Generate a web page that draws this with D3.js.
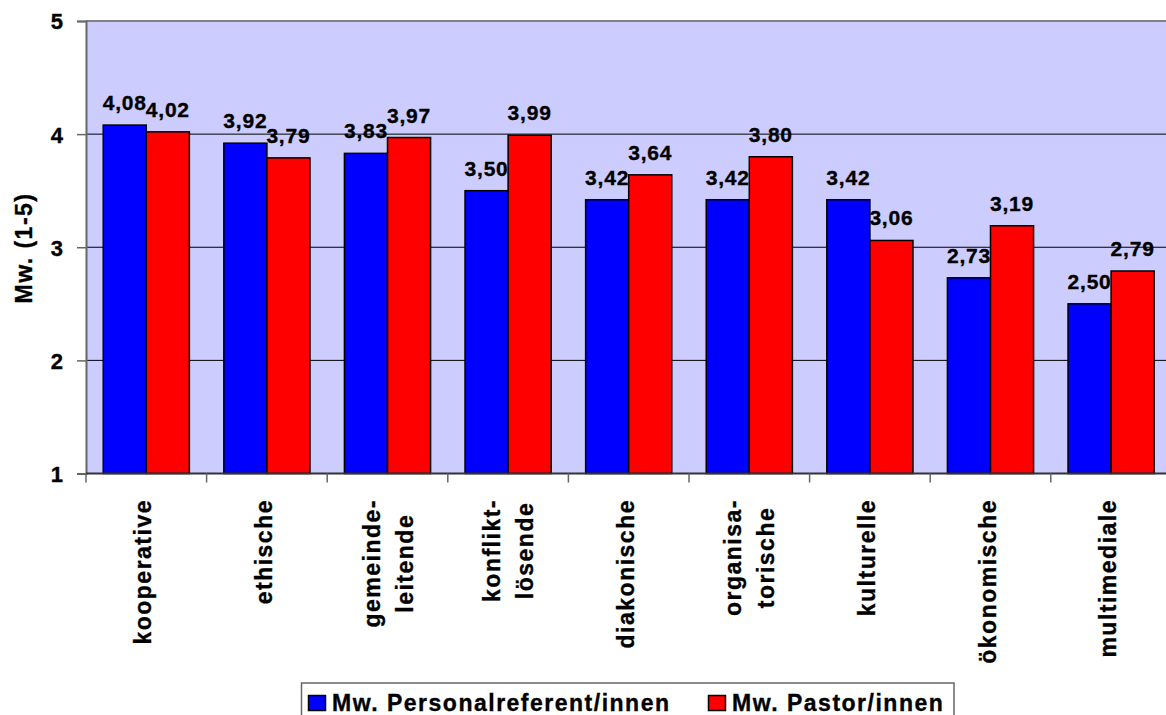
<!DOCTYPE html>
<html>
<head>
<meta charset="utf-8">
<script src="https://cdn.jsdelivr.net/npm/d3@7/dist/d3.min.js"></script>
<style>
  html, body { margin: 0; padding: 0; background: #ffffff; }
  svg { display: block; font-family: "Liberation Sans", Arial, sans-serif; font-weight: bold; }
  svg text { stroke: #000; stroke-width: 0.35px; }
</style>
</head>
<body>
<svg id="chart" width="1166" height="715"></svg>
<script>
// Kompetenzbereiche (Mittelwerte, Skala 1-5)
const categories = ["kooperative", "ethische", "gemeinde-\nleitende", "konflikt-\nlösende",
  "diakonische", "organisa-\ntorische", "kulturelle", "ökonomische", "multimediale"];
const seriesNames = ["Mw. Personalreferent/innen", "Mw. Pastor/innen"];
const personalValues = [4.08, 3.92, 3.83, 3.50, 3.42, 3.42, 3.42, 2.73, 2.50];
const pastorValues = [4.02, 3.79, 3.97, 3.99, 3.64, 3.80, 3.06, 3.19, 2.79];
const yTicks = [1, 2, 3, 4, 5];
const seriesColors = ["#0000ff", "#ff0000"];

const svg = d3.select("#chart");
const plot = { left: 86, top: 21, bottom: 473.5, step: 120.6 };
plot.right = plot.left + plot.step * categories.length;

const x = d3.scaleBand().domain(categories).range([plot.left, plot.right]).padding(0);
const xs = d3.scaleBand().domain(seriesNames).range([0, x.bandwidth()])
  .paddingInner(0).paddingOuter(0.4);
const y = d3.scaleLinear().domain([1, 5]).range([plot.bottom, plot.top]);

// plot area
svg.append("rect")
  .attr("x", plot.left).attr("y", plot.top)
  .attr("width", plot.right - plot.left).attr("height", plot.bottom - plot.top)
  .attr("fill", "#ccccff");
svg.append("line")
  .attr("x1", plot.left).attr("x2", plot.right)
  .attr("y1", plot.top).attr("y2", plot.top)
  .attr("stroke", "#808080").attr("stroke-width", 2);

// gridlines
svg.append("g").selectAll("line")
  .data(yTicks.filter(t => t > 1 && t < 5))
  .join("line")
  .attr("x1", plot.left).attr("x2", plot.right)
  .attr("y1", d => y(d)).attr("y2", d => y(d))
  .attr("stroke", "#000").attr("stroke-width", 1);

// y axis
const yAxis = d3.axisLeft(y).tickValues(yTicks).tickSize(9).tickPadding(14).tickFormat(d3.format("d"));
const gy = svg.append("g").attr("transform", `translate(${plot.left},0)`).call(yAxis);
gy.select(".domain").attr("stroke", "#666").attr("stroke-width", 2);
gy.selectAll(".tick line").attr("stroke", "#666").attr("stroke-width", 1.5);
gy.selectAll(".tick text")
  .attr("font-size", 22).attr("font-weight", "bold").attr("fill", "#000")
  .attr("font-family", "Liberation Sans, Arial, sans-serif")
  .attr("dy", "0.36em");

// bars
const groups = svg.append("g").selectAll("g")
  .data(categories.map((c, i) => ({ c, vals: [personalValues[i], pastorValues[i]] })))
  .join("g")
  .attr("transform", d => `translate(${x(d.c)},0)`);

groups.selectAll("rect")
  .data(d => d.vals.map((v, j) => ({ v, s: seriesNames[j], j })))
  .join("rect")
  .attr("x", d => xs(d.s))
  .attr("y", d => y(d.v))
  .attr("width", xs.bandwidth())
  .attr("height", d => y(1) - y(d.v))
  .attr("fill", d => seriesColors[d.j])
  .attr("stroke", "#000").attr("stroke-width", 1.5);

// value labels
const fmt = v => d3.format(".2f")(v).replace(".", ",");
groups.selectAll("text.val")
  .data(d => d.vals.map((v, j) => ({ v, s: seriesNames[j] })))
  .join("text")
  .attr("class", "val")
  .attr("x", d => xs(d.s) + xs.bandwidth() / 2)
  .attr("y", d => y(d.v) - 15)
  .attr("text-anchor", "middle")
  .attr("font-size", 21).attr("letter-spacing", 0.8)
  .text(d => fmt(d.v));

// x axis line and ticks
svg.append("line")
  .attr("x1", plot.left).attr("x2", plot.right)
  .attr("y1", plot.bottom).attr("y2", plot.bottom)
  .attr("stroke", "#333").attr("stroke-width", 2);
svg.append("g").selectAll("line")
  .data(categories)
  .join("line")
  .attr("x1", d => x(d)).attr("x2", d => x(d))
  .attr("y1", plot.bottom).attr("y2", plot.bottom + 9)
  .attr("stroke", "#666").attr("stroke-width", 1.5);

// category labels, rotated, top-aligned under the axis
const labelTop = 499;
categories.forEach(c => {
  const lines = c.split("\n");
  const cx = x(c) + x.bandwidth() / 2;
  const g = svg.append("g");
  const texts = lines.map(ln => g.append("text")
    .attr("font-size", 23).attr("letter-spacing", 1.5)
    .attr("text-anchor", "middle")
    .text(ln));
  const maxLen = d3.max(texts, t => t.node().getComputedTextLength());
  const offsets = lines.length === 1 ? [5] : [-8, 25];
  texts.forEach((t, k) => {
    const px = cx + offsets[k];
    const py = labelTop + maxLen / 2;
    t.attr("transform", `translate(${px},${py}) rotate(-90)`);
  });
});

// y axis title
svg.append("text")
  .attr("transform", `translate(32,248) rotate(-90)`)
  .attr("text-anchor", "middle")
  .attr("font-size", 23).attr("letter-spacing", 1.5)
  .text("Mw. (1-5)");

// legend
const legend = svg.append("g");
legend.append("rect")
  .attr("x", 301.5).attr("y", 683)
  .attr("width", 652.5).attr("height", 60)
  .attr("fill", "#fff").attr("stroke", "#666").attr("stroke-width", 1.5);
const legendX = [308, 708];
seriesNames.forEach((name, i) => {
  legend.append("rect")
    .attr("x", legendX[i] + 0.5).attr("y", 695.5)
    .attr("width", 17).attr("height", 15)
    .attr("fill", seriesColors[i]).attr("stroke", "#000").attr("stroke-width", 1.5);
  legend.append("text")
    .attr("x", legendX[i] + 24).attr("y", 711)
    .attr("font-size", 23).attr("letter-spacing", 1.5)
    .text(name);
});
</script>
</body>
</html>
